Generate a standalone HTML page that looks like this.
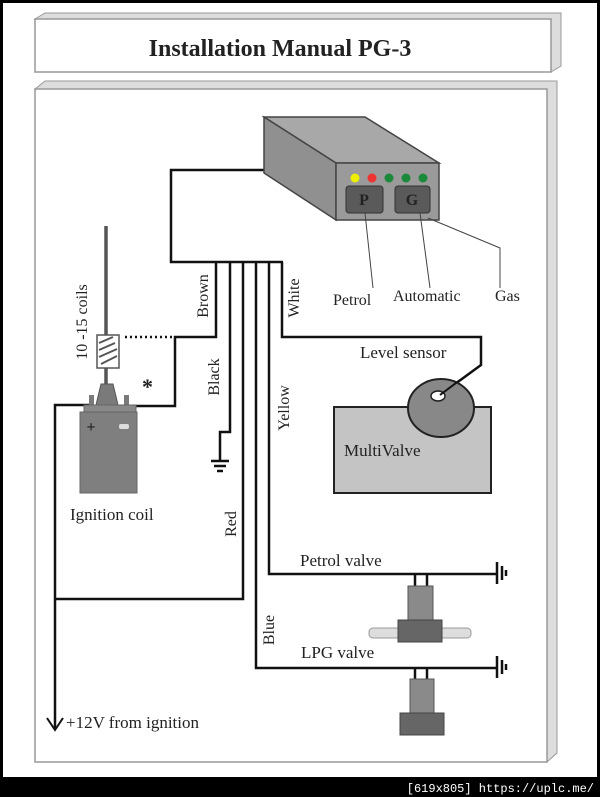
<!DOCTYPE html>
<html><head><meta charset="utf-8"><style>
html,body{margin:0;padding:0;background:#000;}
svg{display:block;}
text{font-family:"Liberation Serif",serif;fill:#222;}
</style></head><body>
<svg width="600" height="797" viewBox="0 0 600 797" xmlns="http://www.w3.org/2000/svg">
<rect x="0" y="0" width="600" height="797" fill="#000"/>
<rect x="3" y="3" width="594" height="774" fill="#fff"/>
<polygon points="35,19 45,13 561,13 561,66 551,72 551,19" fill="#ddd" stroke="#999" stroke-width="1"/>
<rect x="35" y="19" width="516" height="53" fill="#fff" stroke="#999" stroke-width="1.5"/>
<text x="280" y="56" font-size="24" font-weight="bold" text-anchor="middle" fill="#111">Installation Manual  PG-3</text>
<polygon points="35,89 45,81 557,81 557,753 547,762 547,89" fill="#ddd" stroke="#999" stroke-width="1"/>
<rect x="35" y="89" width="512" height="673" fill="#fff" stroke="#999" stroke-width="1.5"/>
<g fill="none" stroke="#111" stroke-width="2.5">
<polyline points="266,170 171,170 171,262 283,262"/>
<polyline points="216,262 216,337 175,337 175,406 128,406"/>
<polyline points="230,262 230,432 220,432 220,460"/>
<polyline points="243,262 243,599 55,599"/>
<polyline points="91,405 55,405 55,728"/>
<polyline points="256,262 256,668 497,668"/>
<polyline points="269,262 269,574 497,574"/>
<polyline points="282,262 282,337 481,337 481,365 440,395"/>
<line x1="497" y1="562" x2="497" y2="584"/>
<line x1="497" y1="656" x2="497" y2="678"/>
<polyline points="47,718 55,730 63,718" stroke-width="2"/>
</g>
<g stroke="#111" stroke-width="2.5">
<line x1="211" y1="461" x2="229" y2="461"/>
<line x1="214" y1="466" x2="226" y2="466"/>
<line x1="217" y1="471" x2="223" y2="471"/>
<line x1="502" y1="566" x2="502" y2="580"/>
<line x1="506" y1="570" x2="506" y2="576"/>
<line x1="502" y1="660" x2="502" y2="674"/>
<line x1="506" y1="664" x2="506" y2="670"/>
</g>
<line x1="125" y1="337" x2="175" y2="337" stroke="#111" stroke-width="2.5" stroke-dasharray="2,3"/>
<polygon points="264,117 365,117 439,163 336,163" fill="#a8a8a8" stroke="#444" stroke-width="1.5"/>
<polygon points="264,117 336,163 336,220 264,173" fill="#909090" stroke="#444" stroke-width="1.5"/>
<rect x="336" y="163" width="103" height="57" fill="#9a9a9a" stroke="#444" stroke-width="1.5"/>
<circle cx="355" cy="178" r="4.5" fill="#ee0"/>
<circle cx="372" cy="178" r="4.5" fill="#e33"/>
<circle cx="389" cy="178" r="4.5" fill="#1a8a3a"/>
<circle cx="406" cy="178" r="4.5" fill="#1a8a3a"/>
<circle cx="423" cy="178" r="4.5" fill="#1a8a3a"/>
<rect x="346" y="186" width="37" height="27" rx="3" fill="#5a5a5a" stroke="#333"/>
<rect x="395" y="186" width="35" height="27" rx="3" fill="#5a5a5a" stroke="#333"/>
<text x="364" y="205" font-size="16" font-weight="bold" text-anchor="middle" fill="#ccc">P</text>
<text x="412" y="205" font-size="16" font-weight="bold" text-anchor="middle" fill="#ccc">G</text>
<g stroke="#444" stroke-width="1" fill="none">
<line x1="365" y1="213" x2="373" y2="288"/>
<line x1="420" y1="213" x2="430" y2="288"/>
<polyline points="428,218 500,248 500,288"/>
</g>
<text x="333" y="305" font-size="16">Petrol</text>
<text x="393" y="301" font-size="16">Automatic</text>
<text x="495" y="301" font-size="16">Gas</text>
<rect x="334" y="407" width="157" height="86" fill="#c4c4c4" stroke="#222" stroke-width="2"/>
<ellipse cx="441" cy="408" rx="33" ry="29" fill="#888" stroke="#222" stroke-width="2"/>
<ellipse cx="438" cy="396" rx="7" ry="5" fill="#fff" stroke="#222" stroke-width="1.5"/>
<line x1="440" y1="395" x2="460" y2="380" stroke="#111" stroke-width="2"/>
<text x="360" y="358" font-size="17">Level sensor</text>
<text x="344" y="456" font-size="17">MultiValve</text>
<g stroke="#111" stroke-width="2.5" fill="none">
<polyline points="415,586 415,574"/><polyline points="427,586 427,574"/>
<polyline points="415,679 415,668"/><polyline points="427,679 427,668"/>
</g>
<rect x="369" y="628" width="102" height="10" rx="4" fill="#ddd" stroke="#999"/>
<rect x="408" y="586" width="25" height="34" fill="#8a8a8a" stroke="#555"/>
<rect x="398" y="620" width="44" height="22" fill="#666" stroke="#444"/>
<text x="300" y="566" font-size="17">Petrol valve</text>
<rect x="410" y="679" width="24" height="34" fill="#8a8a8a" stroke="#555"/>
<rect x="400" y="713" width="44" height="22" fill="#666" stroke="#444"/>
<text x="301" y="658" font-size="17">LPG valve</text>
<line x1="106" y1="226" x2="106" y2="384" stroke="#555" stroke-width="3.5"/>
<rect x="97" y="335" width="22" height="33" fill="#fff" stroke="#555" stroke-width="1.5"/>
<g stroke="#555" stroke-width="2"><line x1="99" y1="343" x2="113" y2="337"/><line x1="99" y1="350" x2="115" y2="343"/><line x1="99" y1="357" x2="117" y2="349"/><line x1="101" y1="364" x2="117" y2="356"/></g>
<polygon points="101,384 113,384 118,405 96,405" fill="#7a7a7a" stroke="#555"/>
<rect x="89" y="395" width="5" height="15" fill="#7a7a7a"/>
<rect x="124" y="395" width="5" height="15" fill="#7a7a7a"/>
<rect x="84" y="405" width="52" height="7" fill="#888" stroke="#666"/>
<rect x="80" y="412" width="57" height="81" fill="#7f7f7f" stroke="#666"/>
<text x="91" y="432" font-size="16" font-weight="bold" text-anchor="middle" fill="#eee">+</text>
<rect x="119" y="424" width="10" height="5" rx="2" fill="#ddd"/>
<text x="142" y="394" font-size="22" font-weight="bold" fill="#111">*</text>
<text x="70" y="520" font-size="17">Ignition coil</text>
<text x="66" y="728" font-size="17">+12V from ignition</text>
<text transform="translate(87,322) rotate(-90)" font-size="16" text-anchor="middle">10 -15 coils</text>
<text transform="translate(208,296) rotate(-90)" font-size="16" text-anchor="middle">Brown</text>
<text transform="translate(299,298) rotate(-90)" font-size="16" text-anchor="middle">White</text>
<text transform="translate(219,377) rotate(-90)" font-size="16" text-anchor="middle">Black</text>
<text transform="translate(289,408) rotate(-90)" font-size="16" text-anchor="middle">Yellow</text>
<text transform="translate(236,524) rotate(-90)" font-size="16" text-anchor="middle">Red</text>
<text transform="translate(274,630) rotate(-90)" font-size="16" text-anchor="middle">Blue</text>
<text x="594" y="792" font-size="12" text-anchor="end" style="font-family:'Liberation Mono',monospace;fill:#fff">[619x805] https://uplc.me/</text>
</svg>
</body></html>
